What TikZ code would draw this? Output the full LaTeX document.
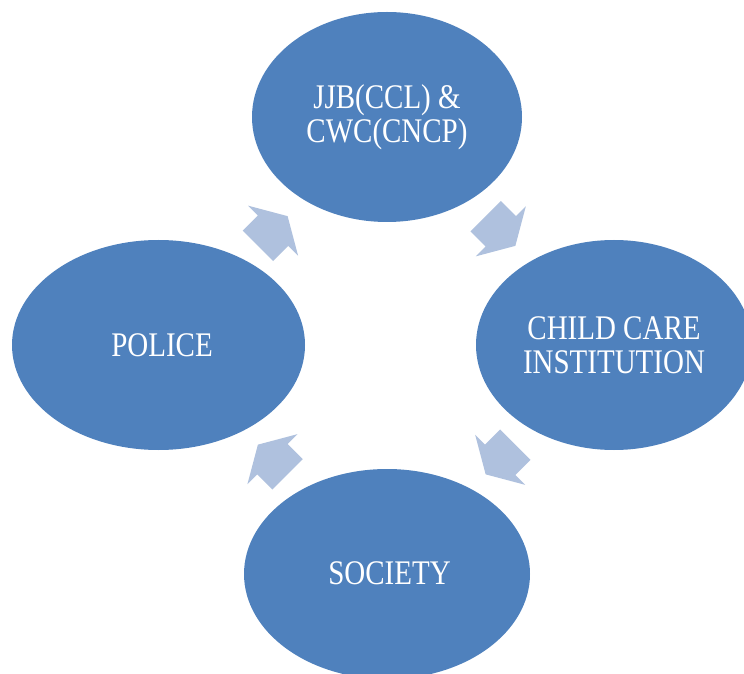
\documentclass[tikz,border=0pt]{standalone}
\usepackage{fontspec}
\setmainfont{Liberation Serif}[FakeStretch=0.84]
\usetikzlibrary{shapes.geometric,calc}
\definecolor{blobblue}{HTML}{4F81BD}
\definecolor{arrowblue}{HTML}{AFC1DE}
\tikzset{
  blob/.style={ellipse, fill=blobblue, draw=none, inner sep=0pt, align=center,
    text=white, font=\fontsize{34.5}{34}\selectfont},
  blockarrow/.pic={\fill[arrowblue] (-21,-21.5) -- (0.5,-21.5) -- (0.5,-35.3) -- (21,0)
     -- (0.5,35.3) -- (0.5,21.5) -- (-21,21.5) -- cycle;}
}
\begin{document}
\begin{tikzpicture}[x=1pt,y=1pt]
\clip (0,0) rectangle (744,673);
\fill[white] (0,0) rectangle (744,673);
\node[blob, minimum width=270pt, minimum height=210pt] (top) at (387,556) {JJB(CCL) \&\\CWC(CNCP)};
\node[blob, minimum width=293pt, minimum height=210pt] (left) at (158.5,328) {\hspace*{7pt}POLICE};
\node[blob, minimum width=276pt, minimum height=210pt] (right) at (614,328) {CHILD CARE\\INSTITUTION};
\node[blob, minimum width=286pt, minimum height=210pt] (bottom) at (387,99) {\raisebox{2pt}{\hspace*{5pt}SOCIETY}};
\pic[rotate=45] at ($(left)!0.5!(top)$) {blockarrow};
\pic[rotate=-45] at ($(top)!0.5!(right)$) {blockarrow};
\pic[rotate=-135] at ($(right)!0.5!(bottom)$) {blockarrow};
\pic[rotate=135] at ($(bottom)!0.5!(left)$) {blockarrow};
\end{tikzpicture}
\end{document}
